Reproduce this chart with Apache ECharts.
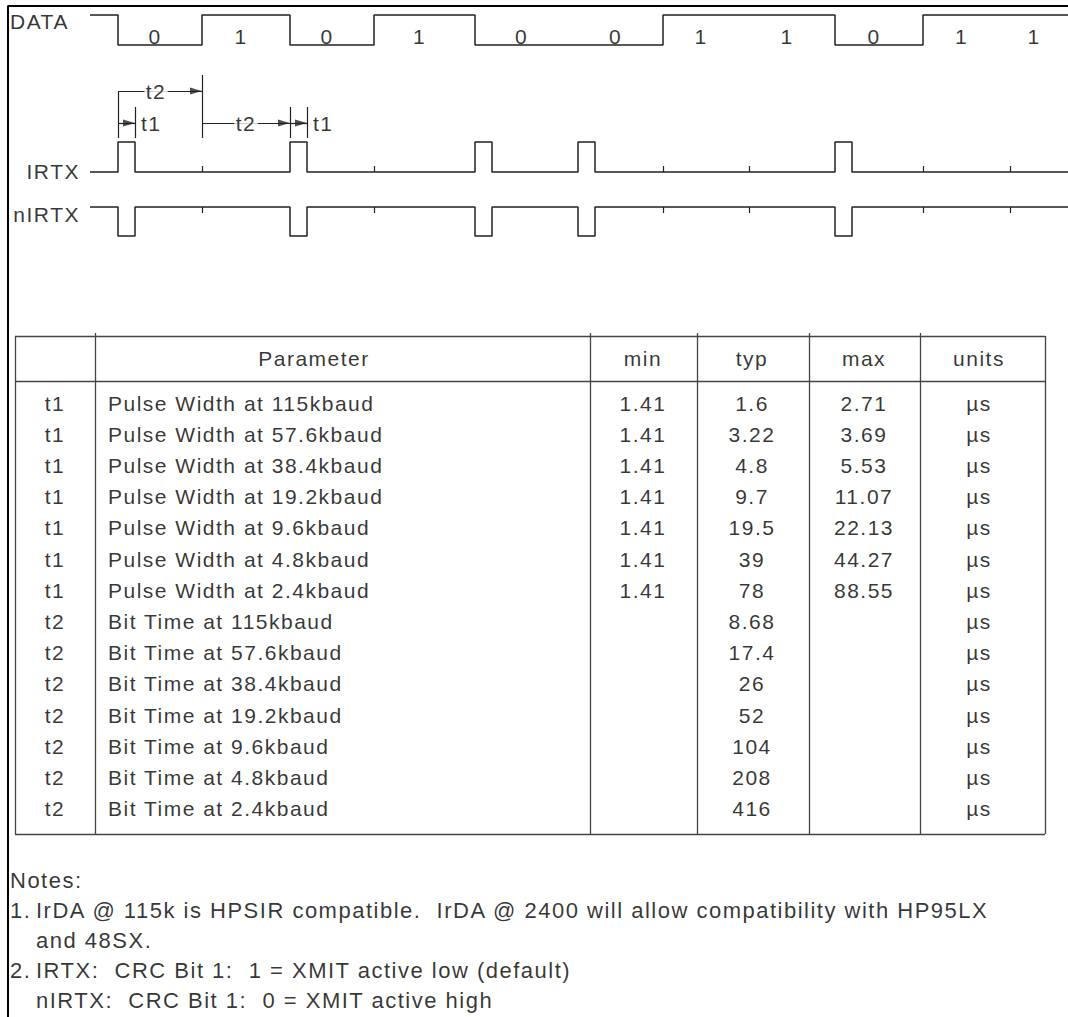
<!DOCTYPE html>
<html><head><meta charset="utf-8">
<script src="https://cdn.jsdelivr.net/npm/echarts@6/dist/echarts.min.js"></script>
<style>
html,body{margin:0;padding:0;background:#fff}
#c{width:1068px;height:1017px}
#c text{letter-spacing:1.5px;white-space:pre}
</style></head><body><div id="c"></div>
<script>
// ---------------- data ----------------
const bitValues = [0, 1, 0, 1, 0, 0, 1, 1, 0, 1, 1];
const bitEdges = [118, 202, 290, 374, 475, 578, 663, 749, 835, 923, 1010]; // bit start times (timeline units)
const timelineStart = 90;
const timelineEnd = 1068;
const pulseWidth = 17;          // t1 on the timeline
const signalNames = ['DATA', 'IRTX', 'nIRTX'];

const headerLabels = ['', 'Parameter', 'min', 'typ', 'max', 'units'];
const paramSymbols = ['t1','t1','t1','t1','t1','t1','t1','t2','t2','t2','t2','t2','t2','t2'];
const paramNames = [
  'Pulse Width at 115kbaud','Pulse Width at 57.6kbaud','Pulse Width at 38.4kbaud',
  'Pulse Width at 19.2kbaud','Pulse Width at 9.6kbaud','Pulse Width at 4.8kbaud',
  'Pulse Width at 2.4kbaud','Bit Time at 115kbaud','Bit Time at 57.6kbaud',
  'Bit Time at 38.4kbaud','Bit Time at 19.2kbaud','Bit Time at 9.6kbaud',
  'Bit Time at 4.8kbaud','Bit Time at 2.4kbaud'];
const minValues = ['1.41','1.41','1.41','1.41','1.41','1.41','1.41','','','','','','',''];
const typValues = ['1.6','3.22','4.8','9.7','19.5','39','78','8.68','17.4','26','52','104','208','416'];
const maxValues = ['2.71','3.69','5.53','11.07','22.13','44.27','88.55','','','','','','',''];
const unitValues = ['µs','µs','µs','µs','µs','µs','µs','µs','µs','µs','µs','µs','µs','µs'];

const notesTitle = 'Notes:';
const noteMarks = ['1.', '', '2.', ''];
const noteTexts = [
  'IrDA @ 115k is HPSIR compatible.  IrDA @ 2400 will allow compatibility with HP95LX',
  'and 48SX.',
  'IRTX:  CRC Bit 1:  1 = XMIT active low (default)',
  'nIRTX:  CRC Bit 1:  0 = XMIT active high'];

// ---------------- layout / style ----------------
const W = 1068, H = 1017;
const FONT = "'Liberation Sans', Arial, Helvetica, sans-serif";
const INK = '#000', WIRE = '#222', RULE = '#444';
const lane = { dataHi: 15, dataLo: 45, irBase: 172, irPeak: 142, nirBase: 207, nirPeak: 236 };
const tbl = { left: 15, right: 1045, top: 336, head: 381, bottom: 834,
  cols: [95, 590, 697, 809, 920], headY: 358, row0: 403, rowStep: 31.2,
  xSym: 55, xName: 108, xHead: 314, xMin: 643, xTyp: 752, xMax: 864, xUnit: 979 };
const notes = { x: 10, xText: 36, y0: 880, step: 30 };

// ---------------- build marks ----------------
function dataWave() {
  const pts = [[timelineStart, lane.dataHi]];
  let prev = lane.dataHi;
  bitValues.forEach((b, i) => {
    const y = b ? lane.dataHi : lane.dataLo;
    if (y !== prev) { pts.push([bitEdges[i], prev], [bitEdges[i], y]); prev = y; }
  });
  pts.push([timelineEnd, prev]);
  return pts;
}
function pulseWave(base, peak) {
  const pts = [[timelineStart, base]];
  bitValues.forEach((b, i) => {
    if (b === 0) {
      const e = bitEdges[i];
      pts.push([e, base], [e, peak], [e + pulseWidth, peak], [e + pulseWidth, base]);
    }
  });
  pts.push([timelineEnd, base]);
  return pts;
}
function bitEnd(i) { return i + 1 < bitEdges.length ? bitEdges[i + 1] : timelineEnd; }

const tickSegs = [];
bitValues.forEach((b, i) => {
  if (b === 1) {
    const e = bitEdges[i];
    tickSegs.push([[e, lane.irBase - 6], [e, lane.irBase]]);
    tickSegs.push([[e, lane.nirBase], [e, lane.nirBase + 6]]);
  }
});

const e0 = bitEdges[0], e1 = bitEdges[1], e2 = bitEdges[2];
const annSegs = [
  [[e0, 91], [e0, 138]],
  [[e0, 91], [e1, 91]],
  [[e1, 75], [e1, 138]],
  [[e0 + pulseWidth, 107], [e0 + pulseWidth, 138]],
  [[e0, 123], [e0 + pulseWidth, 123]],
  [[e1, 123], [e2, 123]],
  [[e2, 107], [e2, 138]],
  [[e2 + pulseWidth, 107], [e2 + pulseWidth, 138]],
  [[e2, 123], [e2 + pulseWidth, 123]]
];
const arrowTips = [[e1, 91], [e0 + pulseWidth, 123], [e2, 123], [e2 + pulseWidth, 123]];

const tableSegs = [
  [[tbl.left, tbl.top], [tbl.right, tbl.top]],
  [[tbl.left, tbl.bottom], [tbl.right, tbl.bottom]],
  [[tbl.left, tbl.top], [tbl.left, tbl.bottom]],
  [[tbl.right, tbl.top], [tbl.right, tbl.bottom]],
  [[tbl.left, tbl.head], [tbl.right, tbl.head]]
];
tbl.cols.forEach(x => tableSegs.push([[x, tbl.top - 3], [x, tbl.bottom]]));

function segSeries(segs, color, width) {
  return { type: 'lines', coordinateSystem: 'cartesian2d', silent: true, z: 3,
    data: segs.map(s => ({ coords: s })),
    lineStyle: { color, width, opacity: 1, curveness: 0 }, symbol: 'none', effect: { show: false } };
}
function textSeries(items, align, extra) {
  return { type: 'scatter', silent: true, z: 10, symbol: 'circle', symbolSize: 1,
    itemStyle: { color: 'rgba(0,0,0,0)' },
    data: items.filter(t => t[2] !== '').map(t => ({ value: [t[0], t[1]], name: t[2] })),
    label: Object.assign({ show: true, position: 'inside', formatter: '{b}', align, verticalAlign: 'middle',
      color: INK, fontFamily: FONT, fontSize: 21 }, extra || {}),
    labelLayout: { hideOverlap: false }, emphasis: { disabled: true } };
}
function waveSeries(pts) {
  return { type: 'line', data: pts, symbol: 'none', silent: true, z: 4,
    lineStyle: { color: WIRE, width: 1.5 } };
}

// texts
const leftTexts = [[10, 21, signalNames[0]]];
const rightTexts = [[80, 171, signalNames[1]], [80, 214, signalNames[2]]];
const centerTexts = [];
bitValues.forEach((b, i) => centerTexts.push([(bitEdges[i] + bitEnd(i)) / 2 - 5, 36, String(b)]));
const annLabelsCenter = [[(e0 + e1) / 2 - 4, 91, 't2'], [(e1 + e2) / 2, 123, 't2']];
const annLabelsLeft = [[e0 + pulseWidth + 6, 123, 't1'], [e2 + pulseWidth + 6, 123, 't1']];

const headCols = [tbl.xSym, tbl.xHead, tbl.xMin, tbl.xTyp, tbl.xMax, tbl.xUnit];
headerLabels.forEach((h, i) => centerTexts.push([headCols[i], tbl.headY, h]));
const tableLeft = [];
paramNames.forEach((n, i) => {
  const y = tbl.row0 + i * tbl.rowStep;
  centerTexts.push([tbl.xSym, y, paramSymbols[i]]);
  tableLeft.push([tbl.xName, y, n]);
  centerTexts.push([tbl.xMin, y, minValues[i]]);
  centerTexts.push([tbl.xTyp, y, typValues[i]]);
  centerTexts.push([tbl.xMax, y, maxValues[i]]);
  centerTexts.push([tbl.xUnit, y, unitValues[i]]);
});
const noteTextsPos = [[notes.x, notes.y0, notesTitle]];
noteTexts.forEach((t, i) => {
  const y = notes.y0 + (i + 1) * notes.step;
  noteTextsPos.push([notes.x, y, noteMarks[i]]);
  noteTextsPos.push([notes.xText, y, t]);
});

const option = {
  animation: false,
  backgroundColor: '#fff',
  grid: { left: 0, right: 0, top: 0, bottom: 0, outerBoundsMode: 'none', containLabel: false },
  xAxis: { type: 'value', min: 0, max: W, show: false },
  yAxis: { type: 'value', min: 0, max: H, inverse: true, show: false },
  series: [
    { type: 'line', data: [[8, H], [8, 6], [W, 6]], symbol: 'none', silent: true, z: 2,
      lineStyle: { color: '#000', width: 2 } },
    waveSeries(dataWave()),
    waveSeries(pulseWave(lane.irBase, lane.irPeak)),
    waveSeries(pulseWave(lane.nirBase, lane.nirPeak)),
    segSeries(tickSegs, WIRE, 1.2),
    segSeries(annSegs, WIRE, 1.2),
    segSeries(tableSegs, RULE, 1.3),
    { type: 'scatter', silent: true, z: 6, symbol: 'triangle', symbolSize: [7, 12], symbolRotate: -90,
      itemStyle: { color: WIRE }, data: arrowTips.map(p => [p[0] - 6, p[1]]) },
    textSeries(leftTexts, 'left'),
    textSeries(rightTexts, 'right'),
    textSeries(centerTexts, 'center'),
    textSeries(annLabelsCenter, 'center', { backgroundColor: '#fff', padding: [0, 3] }),
    textSeries(annLabelsLeft, 'left'),
    textSeries(tableLeft, 'left'),
    textSeries(noteTextsPos, 'left', { fontSize: 22 })
  ]
};
const chart = echarts.init(document.getElementById('c'), null, { renderer: 'svg' });
chart.setOption(option);
</script></body></html>
